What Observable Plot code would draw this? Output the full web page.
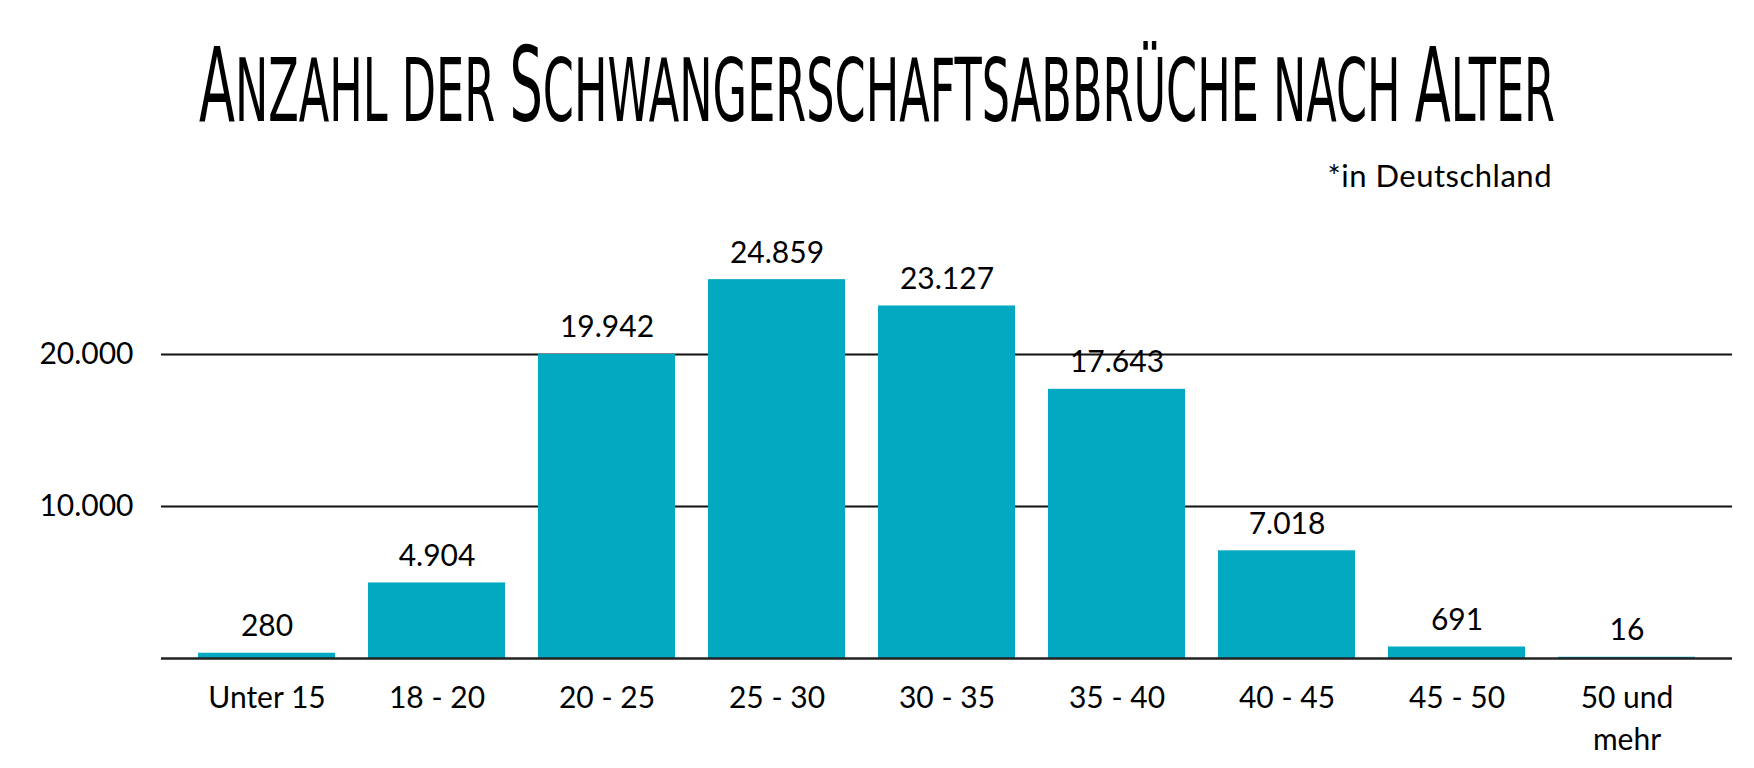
<!DOCTYPE html>
<html>
<head>
<meta charset="utf-8">
<script src="https://cdn.jsdelivr.net/npm/d3@7"></script>
<script src="https://cdn.jsdelivr.net/npm/@observablehq/plot@0.6"></script>
<style>
  html, body { margin: 0; padding: 0; background: #fff; }
  #wrap { width: 1754px; height: 768px; position: relative; overflow: hidden; font-family: Lato, "Noto Sans", sans-serif; }
  #head { position: relative; width: 1754px; height: 200px; }
  #title { position: absolute; left: 199px; top: 33px; white-space: nowrap; font-family: "Liberation Sans Narrow", "DejaVu Sans Condensed", sans-serif; font-size: 104px; font-weight: 400; color: #000; transform-origin: 0 0; line-height: 1; }
  #title .s { font-size: 88px; }
  #sub { position: absolute; right: 202px; top: 156px; font-size: 31px; color: #000; white-space: nowrap; letter-spacing: 0.5px; }
</style>
</head>
<body>
<div id="wrap">
  <div id="head">
    <div id="title">A<span class="s">NZAHL DER </span>S<span class="s">CHWANGERSCHAFTSABBRÜCHE NACH </span>A<span class="s">LTER</span></div>
    <div id="sub">*in Deutschland</div>
  </div>
  <div id="chart"></div>
</div>
<script>
const categories = ["Unter 15", "18 - 20", "20 - 25", "25 - 30", "30 - 35", "35 - 40", "40 - 45", "45 - 50", "50 und mehr"];
const values = [280, 4904, 19942, 24859, 23127, 17643, 7018, 691, 16];
const yTicks = [10000, 20000];
const gridValues = [10000, 20000];

const data = categories.map((c, i) => ({category: c, value: values[i]}));
const fmt = n => String(n).replace(/\B(?=(\d{3})+(?!\d))/g, ".");

// fit the title width
const t = document.getElementById("title");
const w = t.getBoundingClientRect().width;
t.style.transform = `scale(${1356 / w}, 1)`;

const chart = Plot.plot({
  width: 1754,
  height: 568,
  marginLeft: 161,
  marginRight: 22,
  marginTop: 2,
  marginBottom: 110,
  style: {fontFamily: "Lato, 'Noto Sans', sans-serif", fontSize: "30px", color: "#000", background: "#fff"},
  x: {domain: categories, padding: 0.205, label: null},
  y: {domain: [0, 30000], label: null},
  marks: [
    Plot.ruleY(gridValues, {stroke: "#111", strokeWidth: 2}),
    Plot.barY(data, {x: "category", y: "value", fill: "#03a9c1", stroke: "#03a9c1", strokeWidth: 2}),
    Plot.ruleY([0], {stroke: "#222", strokeWidth: 2.5}),
    Plot.text(data, {x: "category", y: "value", text: d => fmt(d.value), dy: -18, lineAnchor: "bottom", fill: "#000", fontSize: 30}),
    Plot.axisY({ticks: yTicks, tickSize: 0, tickPadding: 28, tickFormat: fmt, fontSize: 30, label: null}),
    Plot.axisX({tickSize: 0, tickPadding: 20, fontSize: 30, label: null, lineWidth: 5, lineHeight: 1.4})
  ]
});
document.getElementById("chart").appendChild(chart);
</script>
</body>
</html>
